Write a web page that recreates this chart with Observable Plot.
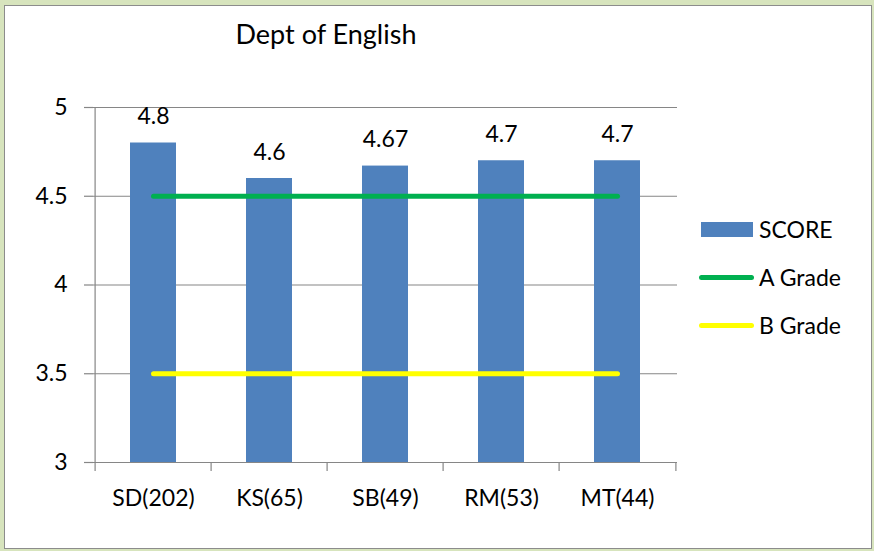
<!DOCTYPE html>
<html><head><meta charset="utf-8">
<script src="https://cdn.jsdelivr.net/npm/d3@7"></script>
<script src="https://cdn.jsdelivr.net/npm/@observablehq/plot@0.6"></script>
<style>
body{margin:0;font-family:Lato,"Open Sans",sans-serif;}
#wrap{position:relative;width:874px;height:551px;background:#d7e4bd;overflow:hidden}
#frame{position:absolute;left:4px;top:5px;width:866px;height:542px;border:1px solid #8c8c8c;background:#fff}
#chart{position:absolute;left:0;top:0}
#title{position:absolute;left:0;width:652px;top:17px;text-align:center;font-size:27px;color:#000}
.leg{position:absolute;left:699px;font-size:23px;color:#000;display:flex;align-items:center;height:26px}
.sw{display:inline-block;width:52px;height:15px;background:#4f81bd;margin-right:6px}
.ln{display:inline-block;width:55px;height:5px;border-radius:3px;margin-right:5px}
</style></head>
<body>
<div id="wrap">
  <div id="frame"></div>
  <div id="chart"></div>
  <div id="title">Dept of English</div>
  <div class="leg" style="top:216px;left:701px"><span class="sw"></span>SCORE</div>
  <div class="leg" style="top:264px"><span class="ln" style="background:#00b050"></span>A Grade</div>
  <div class="leg" style="top:312px"><span class="ln" style="background:#ffff00"></span>B Grade</div>
</div>
<script>
const categories = ["SD(202)", "KS(65)", "SB(49)", "RM(53)", "MT(44)"];
const scores = [4.8, 4.6, 4.67, 4.7, 4.7];
const scoreLabels = ["4.8", "4.6", "4.67", "4.7", "4.7"];
const aGrade = [4.5, 4.5, 4.5, 4.5, 4.5];
const bGrade = [3.5, 3.5, 3.5, 3.5, 3.5];
const yTicks = [3, 3.5, 4, 4.5, 5];

const data = categories.map((c, i) => ({cat: c, score: scores[i], label: scoreLabels[i], a: aGrade[i], b: bGrade[i]}));

const W = 874, H = 551, mL = 93, mR = 197;
const bw = (W - mL - mR) / categories.length;
const grey = "#868686";

const plot = Plot.plot({
  width: W, height: H,
  marginLeft: mL, marginRight: mR, marginTop: 107, marginBottom: 89,
  style: {background: "transparent", fontFamily: "Lato, 'Open Sans', sans-serif", color: "#000"},
  x: {type: "band", domain: categories, padding: 0},
  y: {domain: [3, 5]},
  marks: [
    Plot.ruleY(yTicks, {stroke: grey, strokeWidth: 1.2}),
    Plot.ruleX([categories[0]], {y1: 3, y2: 5, dx: -bw / 2, stroke: grey, strokeWidth: 1.2}),
    Plot.ruleX(categories, {y1: 3, y2: 3, insetBottom: -9, dx: -bw / 2, stroke: grey, strokeWidth: 1.2}),
    Plot.ruleX([categories[categories.length - 1]], {y1: 3, y2: 3, insetBottom: -9, dx: bw / 2, stroke: grey, strokeWidth: 1.2}),
    Plot.barY(data, {x: "cat", y1: 3, y2: "score", fill: "#4f81bd", insetLeft: 35, insetRight: 35}),
    Plot.line(data, {x: "cat", y: "a", stroke: "#00b050", strokeWidth: 5, strokeLinecap: "round"}),
    Plot.line(data, {x: "cat", y: "b", stroke: "#ffff00", strokeWidth: 5, strokeLinecap: "round"}),
    Plot.text(data, {x: "cat", y: "score", text: "label", dy: -26, fontSize: 23, fill: "#000"}),
    Plot.axisY({ticks: yTicks, tickSize: 9, tickPadding: 17, fontSize: 23, tickFormat: d => `${d}`, stroke: grey, strokeWidth: 1.2, label: null}),
    Plot.axisX({tickSize: 0, tickPadding: 27, fontSize: 23, label: null})
  ]
});
document.getElementById("chart").appendChild(plot);
</script>
</body></html>
